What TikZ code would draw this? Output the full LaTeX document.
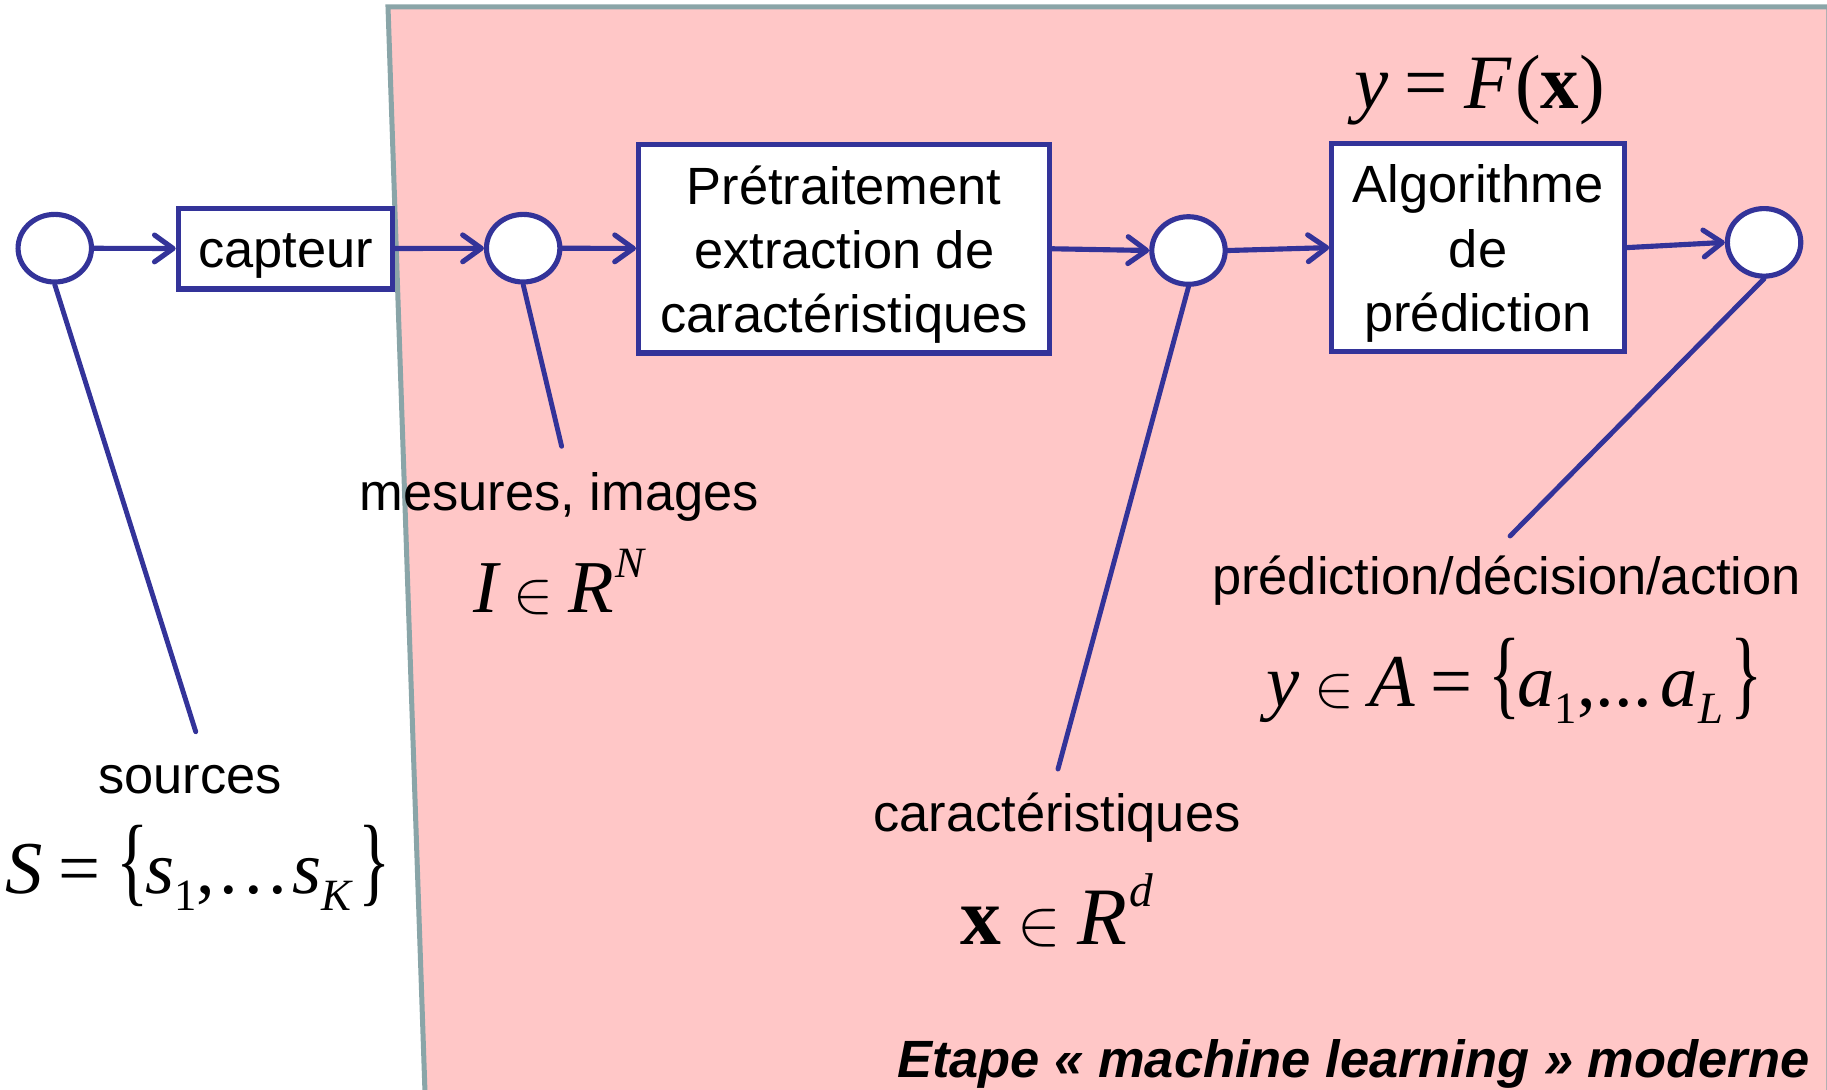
\RequirePackage{fix-cm}
\documentclass[tikz,border=0pt]{standalone}
\usepackage{graphicx}
\usepackage{fontspec}
\setmainfont{Liberation Sans}
\newfontfamily\tms{Liberation Serif}
\usetikzlibrary{arrows.meta,shapes.geometric}

\definecolor{flowblue}{RGB}{51,51,153}
\definecolor{stagepink}{RGB}{255,199,199}
\definecolor{stageedge}{RGB}{138,165,168}

% small helpers for the formulas, set in a Times-like serif
\newcommand\mi[1]{{\tms\itshape #1}}
\newcommand\mrm[1]{{\tms #1}}
\newcommand\melt{\hspace{0.2em}\scalebox{0.8}{$\in$}\hspace{0.2em}}
\newcommand\meq{\hspace{0.21em}\mrm{=}\hspace{0.21em}}
\newcommand\lbr{\mrm{\scalebox{0.9}[1.32]{\{}}\hspace{-0.04em}}
\newcommand\rbr{\mrm{\scalebox{0.9}[1.32]{\}}}}
\newcommand\subs[1]{\raisebox{-0.23em}{\scalebox{0.6}{#1}}}
\newcommand\sups[1]{\hspace{0.03em}\raisebox{0.47em}{\scalebox{0.58}{#1}}}

\begin{document}
\begin{tikzpicture}[x=1pt,y=-1pt,
  lbl/.style={font=\fontsize{45}{55}\selectfont, anchor=base, inner sep=0pt},
  mth/.style={font=\fontsize{64}{70}\selectfont, anchor=base, inner sep=0pt},
  procbox/.style={draw=flowblue, line width=4.4pt, fill=white, rectangle,
    inner sep=0pt, font=\fontsize{45}{55}\selectfont, align=center},
  junction/.style={draw=flowblue, line width=4.4pt, fill=white, ellipse,
    inner sep=0pt, minimum width=63pt, minimum height=58pt},
  flow/.style={draw=flowblue, line width=4.4pt, line cap=round,
    -{Straight Barb[length=16pt,width=23pt,round]}},
  leader/.style={draw=flowblue, line width=4.2pt, line cap=round}
]
\useasboundingbox (0,0) rectangle (1568,935);

% the "machine learning" stage
\begin{scope}
  \clip (0,0) rectangle (1568,935);
  \fill[stagepink] (365,945) -- (333,6) -- (1569.5,6) -- (1569.5,945) -- cycle;
  \draw[stageedge, line width=4.3pt, line join=miter]
    (365,945) -- (333,6) -- (1569.5,6) -- (1569.5,945);
\end{scope}

% processing chain
\node[junction] (c1) at (47,213) {};
\node[procbox, minimum width=184pt, minimum height=69pt,
  text height=41.5pt, text depth=9pt] (cap) at (245,213.5) {capteur};
\node[junction] (c2) at (449,213) {};
\node[procbox, minimum width=353pt, minimum height=179pt] (pre) at (724.5,213.5)
  {\rule{0pt}{0.95em}Prétraitement\\extraction de\\caractéristiques};
\node[junction] (c3) at (1020,215) {};
\node[procbox, minimum width=251pt, minimum height=179pt] (alg) at (1268.5,212.5)
  {\rule{0pt}{0.95em}Algorithme\\de\hspace{0.25em}\\prédiction};
\node[junction] (c4) at (1514,208) {};

\draw[flow] (c1) -- (cap);
\draw[flow] (cap) -- (c2);
\draw[flow] (c2) -- (pre);
\draw[flow] (pre.east) -- (c3.west);
\draw[flow] (c3.east) -- (alg.west);
\draw[flow] (alg.east) -- (c4.west);

% leader lines to the descriptions
\coordinate (e1) at (168,628);
\coordinate (e2) at (482,383);
\coordinate (e3) at (908,660);
\coordinate (e4) at (1296,460);
\draw[leader] (c1.south) -- (e1);
\draw[leader] (c2.south) -- (e2);
\draw[leader] (c3.south) -- (e3);
\draw[leader] (c4.south) -- (e4);

% descriptions
\node[lbl] (t1) at (163,681) {sources};
\node[mth] (m1) at (170,767)
  {\mi{S}\meq\lbr\mi{s}\subs{\mrm{1}}\mrm{,}\hspace{0.06em}\mrm{.\hspace{0.08em}.\hspace{0.08em}.}\hspace{0.06em}\mi{s}\subs{\mi{K}}\hspace{0.1em}\rbr};

\node[lbl] (t2) at (480,438) {mesures, images};
\node[mth] (m2) at (480,526) {\mi{I}\melt\mi{R}\sups{\mi{N}}};

\node[lbl] (t3) at (907,714) {caractéristiques};
\node[mth, font=\fontsize{70}{76}\selectfont] (m3) at (907,811)
  {{\tms\bfseries x}\melt\mi{R}\sups{\mi{d}}};

\node[lbl] (t4) at (1293,510) {prédiction/décision/action};
\node[mth] (m4) at (1300,606)
  {\mi{y}\melt\mi{A}\meq\lbr\mi{a}\subs{\mrm{1}}\mrm{,...}\hspace{0.12em}\mi{a}\subs{\mi{L}}\hspace{0.1em}\rbr};

\node[mth, font=\fontsize{66}{72}\selectfont] (m5) at (1270,93)
  {\mi{y}\meq\mi{F}\hspace{0.05em}\mrm{(}{\tms\bfseries x}\mrm{)}};

\node[lbl, anchor=base east, font=\fontsize{45}{55}\selectfont\bfseries\itshape]
  (stage) at (1553,925) {Etape « machine learning » moderne};
\end{tikzpicture}
\end{document}
